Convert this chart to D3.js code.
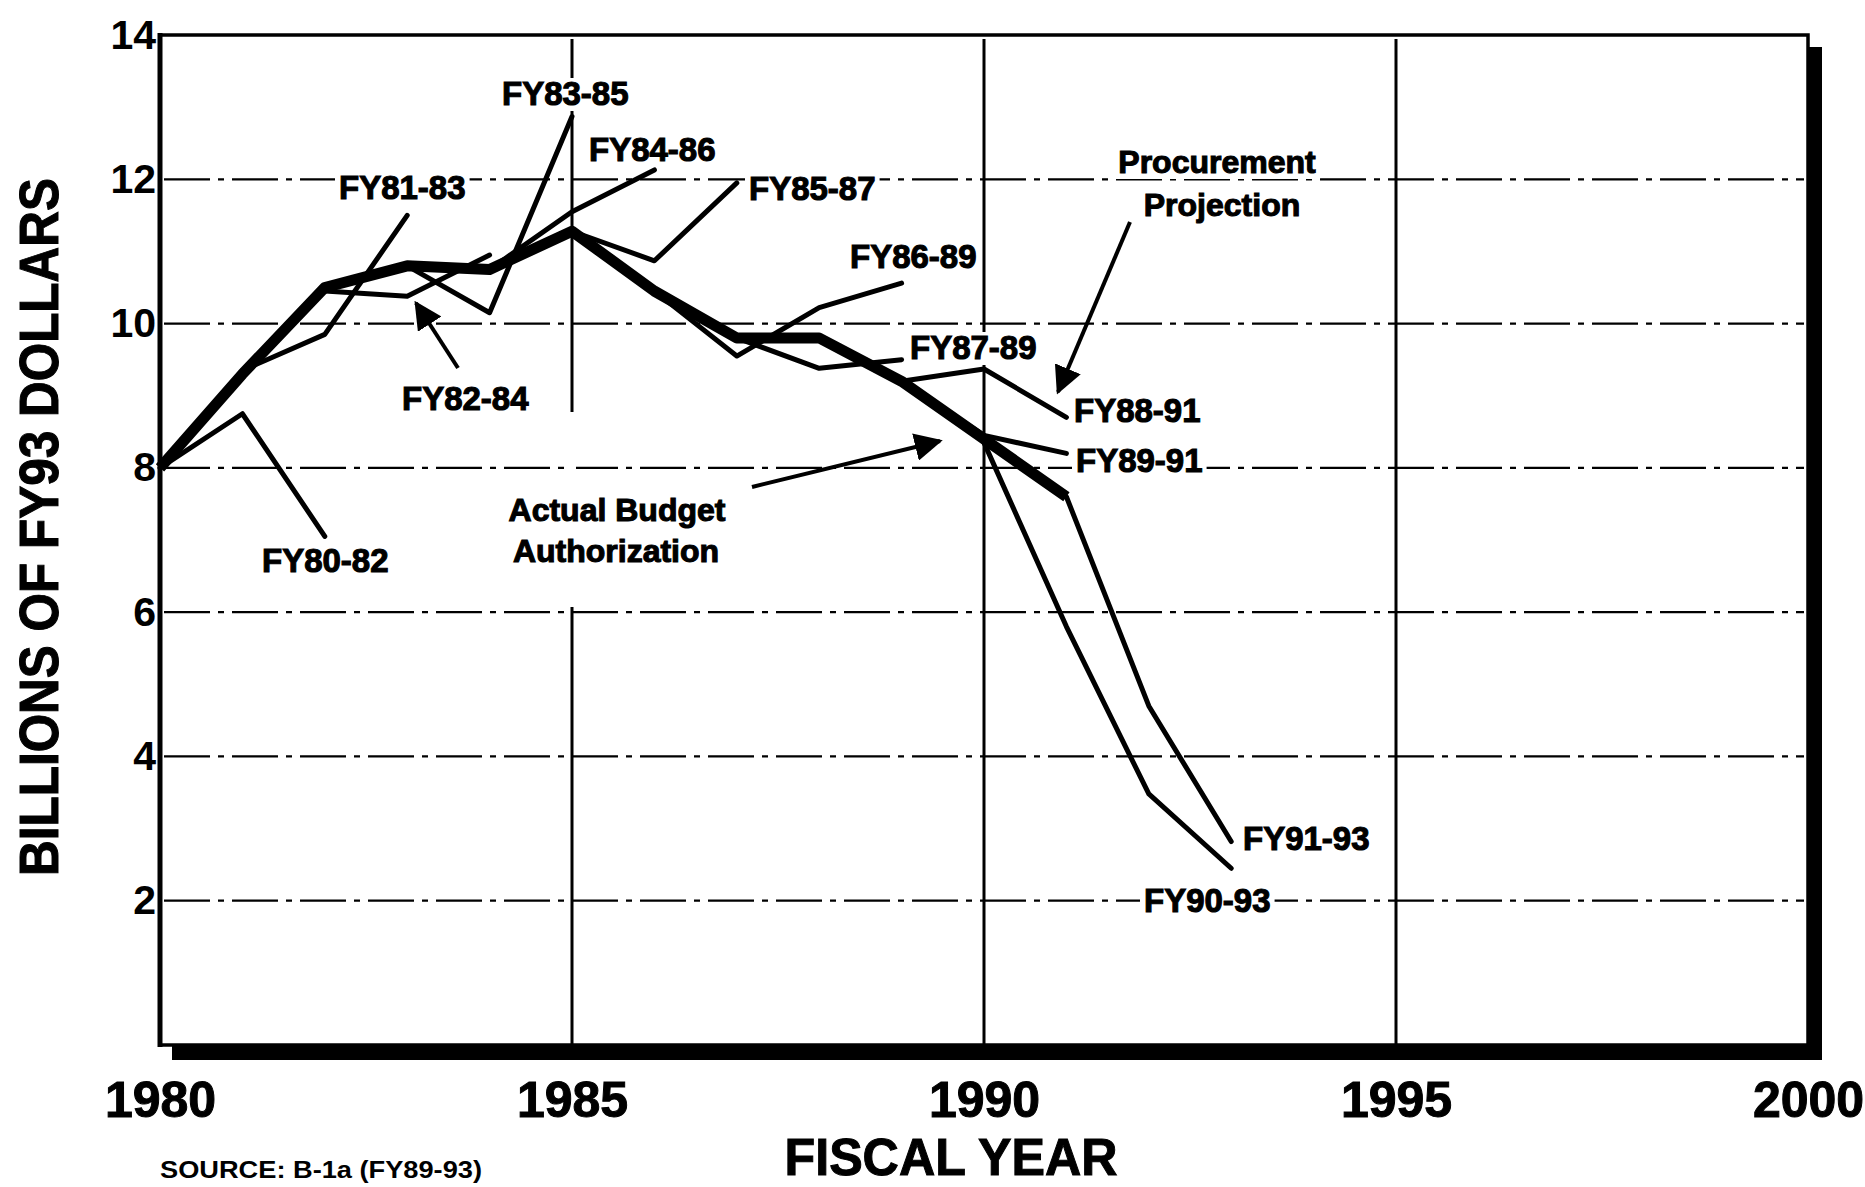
<!DOCTYPE html>
<html>
<head>
<meta charset="utf-8">
<script src="https://cdn.jsdelivr.net/npm/d3@7"></script>
<style>
  body { margin: 0; background: #fff; }
  text { font-family: "Liberation Sans", Arial, sans-serif; font-weight: bold; fill: #000; }
</style>
</head>
<body>
<svg id="chart"></svg>
<script>
var svgWidth = 1865;
var svgHeight = 1187;

// ---- data (billions of FY93 dollars) ----
var actualYears  = [1980, 1981, 1982, 1983, 1984, 1985, 1986, 1987, 1988, 1989, 1990, 1991];
var actualValues = [8.0, 9.3, 10.5, 10.8, 10.75, 11.28, 10.45, 9.8, 9.8, 9.2, 8.4, 7.6];

// each projection: values year by year from its first fiscal year
var fy80_82 = [8.0, 8.75, 7.05];
var fy81_83 = [9.35, 9.85, 11.5];
var fy82_84 = [10.45, 10.38, 10.95];
var fy83_85 = [10.8, 10.15, 12.87];
var fy84_86 = [10.75, 11.55, 12.13];
var fy85_87 = [11.28, 10.87, 11.95];
var fy86_89 = [10.45, 9.55, 10.22, 10.56];
var fy87_89 = [9.8, 9.38, 9.5];
var fy88_91 = [9.8, 9.2, 9.37, 8.7];
var fy89_91 = [9.2, 8.45, 8.2];
var fy90_93 = [8.35, 5.8, 3.48, 2.45];
var fy91_93 = [7.6, 4.7, 2.82];

var projNames  = ["FY80-82", "FY81-83", "FY82-84", "FY83-85", "FY84-86", "FY85-87",
                  "FY86-89", "FY87-89", "FY88-91", "FY89-91", "FY90-93", "FY91-93"];
var projStarts = [1980, 1981, 1982, 1983, 1984, 1985, 1986, 1987, 1988, 1989, 1990, 1991];
var projValues = [fy80_82, fy81_83, fy82_84, fy83_85, fy84_86, fy85_87,
                  fy86_89, fy87_89, fy88_91, fy89_91, fy90_93, fy91_93];

var yTicks = [2, 4, 6, 8, 10, 12, 14];
var yGrid  = [2, 4, 6, 8, 10, 12];
var xTicks = [1980, 1985, 1990, 1995, 2000];
var xGrid  = [1985, 1990, 1995];

// ---- layout ----
var x = d3.scaleLinear().domain([1980, 2000]).range([160, 1808]);
var y = d3.scaleLinear().domain([0, 14]).range([1045, 35]);

// where each series label sits (left x, baseline y)
var labelPos = {
  "FY80-82": [262, 572], "FY81-83": [339, 199], "FY82-84": [402, 410],
  "FY83-85": [502, 105], "FY84-86": [589, 161], "FY85-87": [749, 200],
  "FY86-89": [850, 268], "FY87-89": [910, 359], "FY88-91": [1074, 422],
  "FY89-91": [1076, 472], "FY90-93": [1144, 912], "FY91-93": [1243, 850]
};

var svg = d3.select("#chart")
  .attr("width", svgWidth)
  .attr("height", svgHeight);

svg.append("rect").attr("width", svgWidth).attr("height", svgHeight).attr("fill", "#fff");

var gridGroup = svg.append("g");
var bgGroup = svg.append("g");
var lineGroup = svg.append("g");
var textGroup = svg.append("g");

// horizontal dash-dot gridlines
gridGroup.selectAll(".hgrid")
  .data(yGrid)
  .enter()
  .append("line")
  .attr("x1", x(1980) + 4)
  .attr("x2", x(2000) - 4)
  .attr("y1", d => y(d))
  .attr("y2", d => y(d))
  .attr("stroke", "#000")
  .attr("stroke-width", 2.2)
  .attr("stroke-dasharray", "46,8,6,8");

// vertical gridlines
gridGroup.selectAll(".vgrid")
  .data(xGrid)
  .enter()
  .append("line")
  .attr("x1", d => x(d))
  .attr("x2", d => x(d))
  .attr("y1", y(14) + 4)
  .attr("y2", y(0))
  .attr("stroke", "#000")
  .attr("stroke-width", 3);

// gap in the 1985 line, as in the original
gridGroup.append("rect")
  .attr("x", x(1985) - 4)
  .attr("y", 412)
  .attr("width", 8)
  .attr("height", 195)
  .attr("fill", "#fff");

// ---- series ----
var line = d3.line()
  .x(d => x(d.year))
  .y(d => y(d.value));

projValues.forEach(function (vals, i) {
  var pts = vals.map((v, j) => ({ year: projStarts[i] + j, value: v }));
  lineGroup.append("path")
    .datum(pts)
    .attr("d", line)
    .attr("fill", "none")
    .attr("stroke", "#000")
    .attr("stroke-width", 5)
    .attr("stroke-linejoin", "round")
    .attr("stroke-linecap", "round");
});

var actualPts = actualYears.map((yr, i) => ({ year: yr, value: actualValues[i] }));
lineGroup.append("path")
  .datum(actualPts)
  .attr("d", line)
  .attr("fill", "none")
  .attr("stroke", "#000")
  .attr("stroke-width", 11)
  .attr("stroke-linejoin", "round");

// ---- labels with white knock-out behind them ----
function addLabel(txt, px, py, anchor, size) {
  var t = textGroup.append("text")
    .attr("x", px)
    .attr("y", py)
    .attr("text-anchor", anchor || "start")
    .attr("font-size", size || 33)
    .attr("stroke", "#000")
    .attr("stroke-width", 1.1)
    .text(txt);
  var bb = t.node().getBBox();
  bgGroup.append("rect")
    .attr("x", bb.x - 4)
    .attr("y", bb.y + 3)
    .attr("width", bb.width + 8)
    .attr("height", bb.height - 4)
    .attr("fill", "#fff");
  return t;
}

projNames.forEach(function (name) {
  addLabel(name, labelPos[name][0], labelPos[name][1]);
});

addLabel("Procurement", 1217, 173, "middle", 32);
addLabel("Projection", 1222, 216, "middle", 32);
addLabel("Actual Budget", 617, 521, "middle", 32);
addLabel("Authorization", 616, 562, "middle", 32);

// arrows
var defs = svg.append("defs");
defs.append("marker")
  .attr("id", "head")
  .attr("viewBox", "0 0 10 10")
  .attr("refX", 9)
  .attr("refY", 5)
  .attr("markerWidth", 7)
  .attr("markerHeight", 7)
  .attr("markerUnits", "strokeWidth")
  .attr("orient", "auto")
  .append("path")
  .attr("d", "M0,0 L10,5 L0,10 z")
  .attr("fill", "#000");

var arrows = [
  [1130, 222, 1058, 392],
  [752, 487, 940, 441],
  [458, 368, 416, 303]
];
textGroup.selectAll(".arrow")
  .data(arrows)
  .enter()
  .append("line")
  .attr("x1", d => d[0])
  .attr("y1", d => d[1])
  .attr("x2", d => d[2])
  .attr("y2", d => d[3])
  .attr("stroke", "#000")
  .attr("stroke-width", 4)
  .attr("marker-end", "url(#head)");

// ---- frame with drop shadow ----
svg.append("rect")
  .attr("x", x(1980) + 12)
  .attr("y", y(0))
  .attr("width", x(2000) - x(1980) + 2)
  .attr("height", 15)
  .attr("fill", "#000");
svg.append("rect")
  .attr("x", x(2000))
  .attr("y", y(14) + 12)
  .attr("width", 14)
  .attr("height", y(0) - y(14) + 3)
  .attr("fill", "#000");
svg.append("rect")
  .attr("x", x(1980))
  .attr("y", y(14))
  .attr("width", x(2000) - x(1980))
  .attr("height", y(0) - y(14))
  .attr("fill", "none")
  .attr("stroke", "#000")
  .attr("stroke-width", 3.5);
svg.append("line")
  .attr("x1", x(1980)).attr("x2", x(1980))
  .attr("y1", y(14) - 2).attr("y2", y(0) + 2)
  .attr("stroke", "#000")
  .attr("stroke-width", 5);

// ---- axes ----
var leftAxis = d3.axisLeft(y).tickValues(yTicks).tickSize(0).tickPadding(4);
var yAxis = svg.append("g")
  .attr("transform", `translate(${x(1980)}, 0)`)
  .call(leftAxis);
yAxis.select(".domain").remove();
yAxis.selectAll("text")
  .attr("font-family", "DejaVu Sans")
  .attr("font-weight", "bold")
  .attr("font-size", 41)
  .attr("fill", "#000");

var bottomAxis = d3.axisBottom(x).tickValues(xTicks).tickFormat(d3.format("d")).tickSize(0).tickPadding(36);
var xAxis = svg.append("g")
  .attr("transform", `translate(0, ${y(0)})`)
  .call(bottomAxis);
xAxis.select(".domain").remove();
xAxis.selectAll("text")
  .attr("font-family", "Liberation Sans")
  .attr("font-weight", "bold")
  .attr("font-size", 50)
  .attr("fill", "#000")
  .attr("stroke", "#000")
  .attr("stroke-width", 1);

// axis titles
svg.append("text")
  .attr("transform", "translate(58, 527) rotate(-90)")
  .attr("text-anchor", "middle")
  .attr("font-size", 55)
  .attr("textLength", 698)
  .attr("lengthAdjust", "spacingAndGlyphs")
  .attr("stroke", "#000")
  .attr("stroke-width", 1)
  .text("BILLIONS OF FY93 DOLLARS");

svg.append("text")
  .attr("x", 951)
  .attr("y", 1175)
  .attr("text-anchor", "middle")
  .attr("font-size", 52)
  .attr("textLength", 333)
  .attr("lengthAdjust", "spacingAndGlyphs")
  .attr("stroke", "#000")
  .attr("stroke-width", 1)
  .text("FISCAL YEAR");

svg.append("text")
  .attr("x", 160)
  .attr("y", 1178)
  .attr("font-size", 24)
  .attr("textLength", 322)
  .attr("lengthAdjust", "spacingAndGlyphs")
  .text("SOURCE: B-1a (FY89-93)");
</script>
</body>
</html>
